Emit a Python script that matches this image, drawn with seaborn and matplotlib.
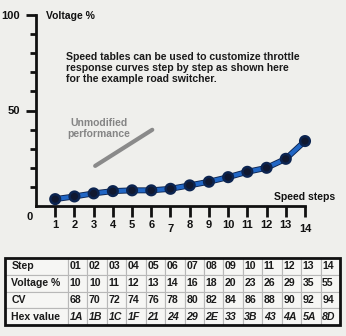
import matplotlib
matplotlib.use("Agg")
import matplotlib.pyplot as plt
import matplotlib.patheffects as pe
from matplotlib.patches import Rectangle
import seaborn as sns
import pandas as pd

# Speed table data
steps = list(range(1, 15))
curve_voltage = [3.6, 5.0, 6.6, 7.8, 8.2, 8.2, 9.0, 10.8, 12.7, 15.1, 17.9, 20.0, 24.7, 34.0]
unmod_steps = [3.08, 6.05]
unmod_voltage = [21.0, 39.9]

table_steps = ["01", "02", "03", "04", "05", "06", "07", "08", "09", "10", "11", "12", "13", "14"]
table_voltage = ["10", "10", "11", "12", "13", "14", "16", "18", "20", "23", "26", "29", "35", "55"]
table_cv = ["68", "70", "72", "74", "76", "78", "80", "82", "84", "86", "88", "90", "92", "94"]
table_hex = ["1A", "1B", "1C", "1F", "21", "24", "29", "2E", "33", "3B", "43", "4A", "5A", "8D"]
row_labels = ["Step", "Voltage %", "CV", "Hex value"]

sns.set_theme(style="white")
plt.rcParams["font.family"] = ["Liberation Sans", "DejaVu Sans"]

BG = "#efefec"
fig = plt.figure(figsize=(3.46, 3.36), dpi=100, facecolor=BG)
W, H = 346, 336

# chart area
ax = fig.add_axes([36 / W, (H - 206) / H, (305 - 36) / W, (206 - 15) / H])
ax.set_facecolor(BG)

df = pd.DataFrame({"step": steps, "voltage": curve_voltage})
sns.lineplot(data=df, x="step", y="voltage", ax=ax, color="#2166c4", lw=3.0,
             marker="o", markersize=4.4, markerfacecolor="#101830",
             markeredgecolor="#101830", clip_on=False, zorder=3)
ax.lines[0].set_path_effects([pe.Stroke(linewidth=4.3, foreground="#0c2450"), pe.Normal()])

sns.lineplot(x=unmod_steps, y=unmod_voltage, ax=ax, color="#8a8a8a", lw=3, zorder=2)

ax.set_xlim(0, 14)
ax.set_ylim(0, 100)
for s in ["top", "right"]:
    ax.spines[s].set_visible(False)
for s in ["left", "bottom"]:
    ax.spines[s].set_linewidth(2)
    ax.spines[s].set_color("#111111")

ax.set_xticks(steps)
ax.set_xticklabels([str(s) for s in steps], fontsize=8, fontweight="bold", color="#111111")
ax.tick_params(axis="x", direction="out", length=8, width=2, color="#111111", pad=2, bottom=True)
for t in ax.xaxis.get_major_ticks():
    if t.label1.get_text() in ("7", "14"):
        t.set_pad(5)

ax.set_yticks([50, 100])
ax.set_yticklabels(["50", "100"], fontsize=8, fontweight="bold", color="#111111")
ax.set_yticks([10, 20, 30, 40, 60, 70, 80, 90], minor=True)
ax.tick_params(axis="y", which="major", direction="out", length=7.5, width=2, color="#111111", pad=4, left=True)
ax.tick_params(axis="y", which="minor", direction="out", length=4, width=2, color="#111111", left=True)
ax.set_xlabel("")
ax.set_ylabel("")

ax.text(-0.35, -5.8, "0", fontsize=8, fontweight="bold", color="#111111", ha="center", va="center", clip_on=False)
ax.text(0.52, 99.5, "Voltage %", fontsize=7.5, fontweight="bold", color="#111111", ha="left", va="center", clip_on=False)
ax.text(15.55, 4.7, "Speed steps", fontsize=7.5, fontweight="bold", color="#111111", ha="right", va="center", clip_on=False)
ax.text(1.55, 80.8, "Speed tables can be used to customize throttle\nresponse curves step by step as shown here\nfor the example road switcher.",
        fontsize=7.6, fontweight="bold", color="#1a1a1a", ha="left", va="top", linespacing=1.13)
ax.text(3.26, 40.6, "Unmodified\nperformance", fontsize=7.5, fontweight="bold", color="#858585",
        ha="center", va="center", linespacing=1.08)

# speed table
tax = fig.add_axes([5 / W, (H - 325) / H, (340 - 5) / W, (325 - 258) / H])
tax.axis("off")
cells = [[row_labels[0]] + table_steps,
         [row_labels[1]] + table_voltage,
         [row_labels[2]] + table_cv,
         [row_labels[3]] + table_hex]
first_w = 63 / 335
col_w = [first_w] + [(1 - first_w) / 14] * 14
tbl = tax.table(cellText=cells, colWidths=col_w, bbox=[0, 0, 1, 1], cellLoc="left")
tbl.auto_set_font_size(False)
for (r, c), cell in tbl.get_celld().items():
    cell.set_facecolor("#f6f6f4")
    cell.set_edgecolor("#b8b8b8")
    cell.set_linewidth(0.8)
    cell.PAD = 0.08 if c > 0 else 0.1
    txt = cell.get_text()
    txt.set_fontsize(7.6)
    txt.set_fontweight("bold")
    txt.set_color("#1a1a1a")
    if r == 3 and c > 0:
        txt.set_fontstyle("italic")
tax.add_patch(Rectangle((0, 0), 1, 1, transform=tax.transAxes, fill=False,
                        edgecolor="#111111", lw=2, clip_on=False, zorder=5))

fig.savefig("out.png", dpi=100, facecolor=BG)
